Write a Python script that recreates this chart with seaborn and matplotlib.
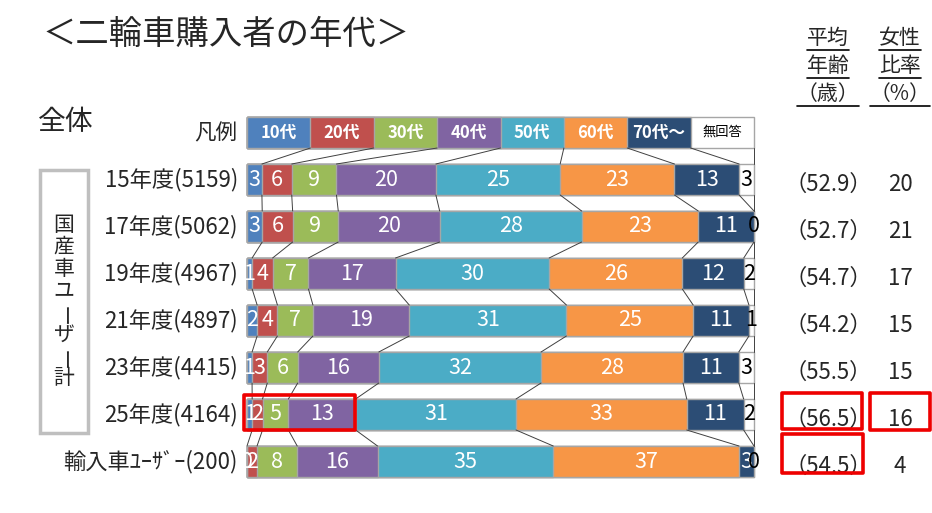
import numpy as np
import matplotlib
matplotlib.use('Agg')
import matplotlib.pyplot as plt
from matplotlib.lines import Line2D
from matplotlib.patches import Rectangle
from matplotlib.transforms import IdentityTransform
import seaborn as sns

# values (percent per age group)
age_groups = ['10代', '20代', '30代', '40代', '50代', '60代', '70代～', '無回答']
row_labels = ['15年度(5159)', '17年度(5062)', '19年度(4967)', '21年度(4897)',
              '23年度(4415)', '25年度(4164)', '輸入車ﾕｰｻﾞｰ(200)']
share_fy15 = [3, 6, 9, 20, 25, 23, 13, 3]
share_fy17 = [3, 6, 9, 20, 28, 23, 11, 0]
share_fy19 = [1, 4, 7, 17, 30, 26, 12, 2]
share_fy21 = [2, 4, 7, 19, 31, 25, 11, 1]
share_fy23 = [1, 3, 6, 16, 32, 28, 11, 3]
share_fy25 = [1, 2, 5, 13, 31, 33, 11, 2]
share_import = [0, 2, 8, 16, 35, 37, 3, 0]
avg_age = [52.9, 52.7, 54.7, 54.2, 55.5, 56.5, 54.5]
female_ratio = [20, 21, 17, 15, 15, 16, 4]

palette = ['#4F81BD', '#C0504D', '#9BBB59', '#8064A2',
           '#4BACC6', '#F79646', '#2C4D75', '#FFFFFF']
EDGE = '#A6A6A6'
RED = '#EE0000'

sns.set_theme(style='white')
plt.rcParams['font.family'] = ['Noto Sans CJK JP', 'DejaVu Sans']

W, H = 932, 513
fig = plt.figure(figsize=(W / 100, H / 100), dpi=100)
ax = fig.add_axes([0, 0, 1, 1])

# pixel layout: 0..100 % spans X0..X1, legend row centre at ROW0, row pitch STEP
X0, X1 = 247, 754
ROW0, STEP = 132.5, 47
BAR_H = 0.66
sx = (X1 - X0) / 100


def px2x(p):
    return (p - X0) / sx


def px2y(p):
    return (p - ROW0) / STEP


def fx(p):
    return p / W


def fy(p):
    return 1 - p / H


shares_raw = np.array([share_fy15, share_fy17, share_fy19, share_fy21,
                       share_fy23, share_fy25, share_import], dtype=float)
shares = shares_raw / shares_raw.sum(axis=1, keepdims=True) * 100
cum = np.cumsum(shares, axis=1)
ypos = np.arange(1, len(row_labels) + 1)

n_grp = len(age_groups)
legend_cum = np.arange(1, n_grp + 1) * 100 / n_grp

# stacked bars: draw cumulative totals from the last group back to the first
for k in reversed(range(n_grp)):
    sns.barplot(x=cum[:, k], y=ypos, orient='y', native_scale=True,
                color=palette[k], saturation=1, width=BAR_H, errorbar=None,
                edgecolor=EDGE, linewidth=1, ax=ax)
    # legend strip (equal widths) on row 0
    sns.barplot(x=[legend_cum[k]], y=[0], orient='y', native_scale=True,
                color=palette[k], saturation=1, width=BAR_H, errorbar=None,
                edgecolor=EDGE, linewidth=1, ax=ax)

# legend texts
for k, name in enumerate(age_groups):
    xc = legend_cum[k] - 50 / n_grp
    if k == n_grp - 1:
        ax.text(xc, 0, name, ha='center', va='center', fontsize=9.5, color='black')
    else:
        ax.text(xc, 0, name, ha='center', va='center', fontsize=12,
                color='white', fontweight='bold')

# value labels inside segments
for i in range(len(row_labels)):
    for k in range(n_grp):
        xc = cum[i, k] - shares[i, k] / 2
        col = 'black' if k == n_grp - 1 else 'white'
        ax.text(xc, ypos[i], f'{int(shares_raw[i, k])}', ha='center', va='center',
                fontsize=15.5, color=col, zorder=5)

# series lines between consecutive bars
bounds = np.vstack([legend_cum, cum])
for i in range(len(bounds) - 1):
    for k in range(n_grp):
        ax.plot([bounds[i, k], bounds[i + 1, k]],
                [i + BAR_H / 2, i + 1 - BAR_H / 2],
                color='#404040', lw=0.7, zorder=1)

ax.set_xlim(px2x(0), px2x(W))
ax.set_ylim(px2y(H), px2y(0))
ax.axis('off')

# row labels
for i, lab in enumerate(row_labels):
    ax.text(px2x(238), ypos[i], lab, ha='right', va='center', fontsize=16)

# right-hand columns
for i in range(len(row_labels)):
    ax.text(px2x(828), ypos[i] + 0.1, f'（{avg_age[i]:.1f}）', ha='center',
            va='center', fontsize=16)
    ax.text(px2x(900), ypos[i] + 0.1, f'{female_ratio[i]}', ha='center',
            va='center', fontsize=16)

# column headers with underline
renderer = fig.canvas.get_renderer()
headers = [(828, ['平均', '年齢', '（歳）']), (900, ['女性', '比率', '（%）'])]
for xc, lines in headers:
    for j, s in enumerate(lines):
        t = fig.text(fx(xc), fy(38 + 28 * j), s, ha='center', va='center', fontsize=15)
        bb = t.get_window_extent(renderer)
        fig.add_artist(Line2D([bb.x0, bb.x1], [bb.y0 - 1, bb.y0 - 1], color='black',
                              lw=1.2, transform=IdentityTransform()))

# titles
fig.text(fx(42), fy(34), '＜二輪車購入者の年代＞', ha='left', va='center', fontsize=24)
fig.text(fx(38), fy(122), '全体', ha='left', va='center', fontsize=20)
fig.text(fx(237), fy(133), '凡例', ha='right', va='center', fontsize=15.5)

# bracket box with vertical text for domestic users
ax.add_patch(Rectangle((px2x(40), px2y(170)), px2x(88) - px2x(40), px2y(433) - px2y(170),
                       fill=False, edgecolor='#BFBFBF', lw=2.5))
vert = '国産車ユーザー計'
for j, ch in enumerate(vert):
    # a rotated long-vowel mark sits off-centre, nudge it back
    rot, dx = (90, 5) if ch == 'ー' else (0, 0)
    fig.text(fx(64 + dx), fy(225 + 21.9 * j), ch, ha='center', va='center',
             fontsize=15, rotation=rot)

# red highlight boxes
boxes = [(244, 395, 355, 430), (782, 393, 862, 429), (870, 393, 930, 430),
         (782, 434, 863, 473)]
for x0, y0, x1, y1 in boxes:
    ax.add_patch(Rectangle((px2x(x0), px2y(y0)), px2x(x1) - px2x(x0), px2y(y1) - px2y(y0),
                           fill=False, edgecolor=RED, lw=2.6, joinstyle='round',
                           zorder=6, clip_on=False))

fig.savefig('out.png', dpi=100)
